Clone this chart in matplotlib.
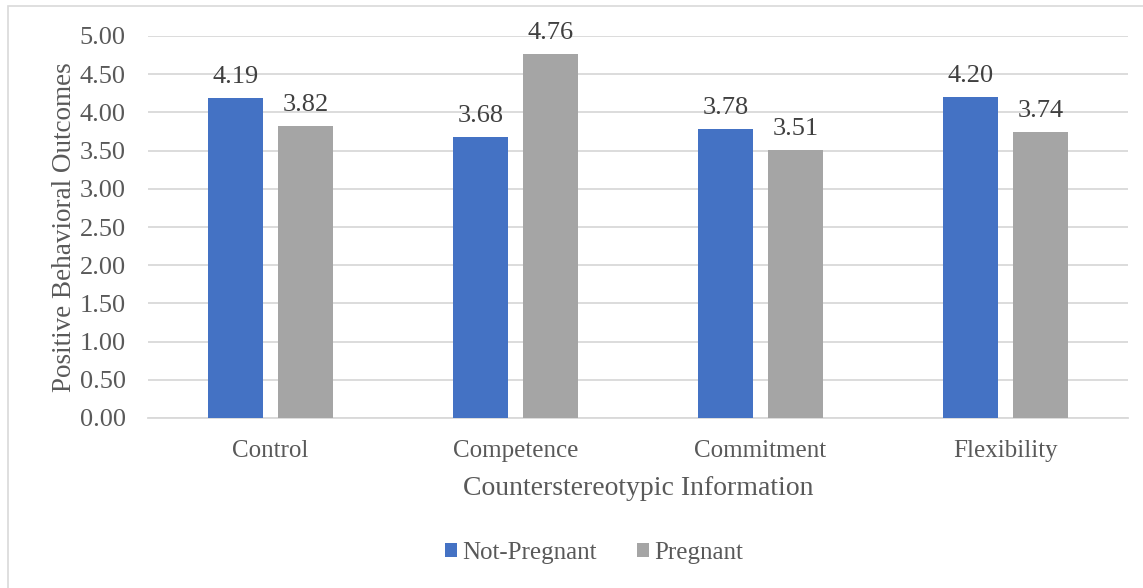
import matplotlib
matplotlib.use("Agg")
import matplotlib.pyplot as plt
import matplotlib.patches as mpatches
import numpy as np

categories = ["Control", "Competence", "Commitment", "Flexibility"]
not_pregnant = [4.19, 3.68, 3.78, 4.20]
pregnant = [3.82, 4.76, 3.51, 3.74]
series_labels = ["Not-Pregnant", "Pregnant"]

BLUE = "#4472c4"
GRAY = "#a5a5a5"
TEXT = "#595959"

plt.rcParams["font.family"] = ["Liberation Serif", "DejaVu Serif"]

fig = plt.figure(figsize=(11.43, 5.88), dpi=100)
ax = fig.add_axes([148 / 1143, 1 - 418 / 588, 980 / 1143, 382 / 588])

# light frame around the chart area
fig.patches.append(mpatches.Rectangle((8 / 1143, -0.01), 1.0, 1 - 6 / 588 + 0.01,
                                      transform=fig.transFigure, fill=False,
                                      edgecolor="#d9d9d9", linewidth=1.2))

x = np.arange(len(categories))
w = 0.224
off = 0.143
b1 = ax.bar(x - off, not_pregnant, w, color=BLUE, label=series_labels[0], zorder=3)
b2 = ax.bar(x + off, pregnant, w, color=GRAY, label=series_labels[1], zorder=3)

for bars in (b1, b2):
    for rect in bars:
        h = rect.get_height()
        ax.text(rect.get_x() + rect.get_width() / 2, h + 0.13, f"{h:.2f}",
                ha="center", va="bottom", fontsize=19, color="#404040", zorder=4)

ax.set_xlim(-0.5, len(categories) - 0.5)
ax.set_ylim(0, 5)
ax.set_yticks(np.arange(0, 5.01, 0.5))
ax.set_yticklabels([f"{v:.2f}" for v in np.arange(0, 5.01, 0.5)])
ax.set_xticks(x)
ax.set_xticklabels(categories)
ax.tick_params(axis="y", length=0, labelsize=19, labelcolor=TEXT, pad=16)
ax.tick_params(axis="x", length=0, labelsize=18, labelcolor=TEXT, pad=16)

ax.grid(axis="y", color="#d9d9d9", linewidth=1.3, zorder=0)
for s in ["top", "right", "left"]:
    ax.spines[s].set_visible(False)
ax.spines["bottom"].set_color("#d9d9d9")
ax.spines["bottom"].set_linewidth(1.3)

ax.set_ylabel("Positive Behavioral Outcomes", fontsize=19.5, color=TEXT, labelpad=2)
ax.set_xlabel("Counterstereotypic Information", fontsize=20, color=TEXT, labelpad=10)

fig.legend(handles=[b1, b2], labels=series_labels, loc="center",
           bbox_to_anchor=(594 / 1143, 1 - 553 / 588), ncol=2, frameon=False,
           fontsize=18, labelcolor=TEXT, handlelength=0.5, handleheight=0.5,
           handletextpad=0.2, columnspacing=1.6)

fig.savefig("out.png", dpi=100)
